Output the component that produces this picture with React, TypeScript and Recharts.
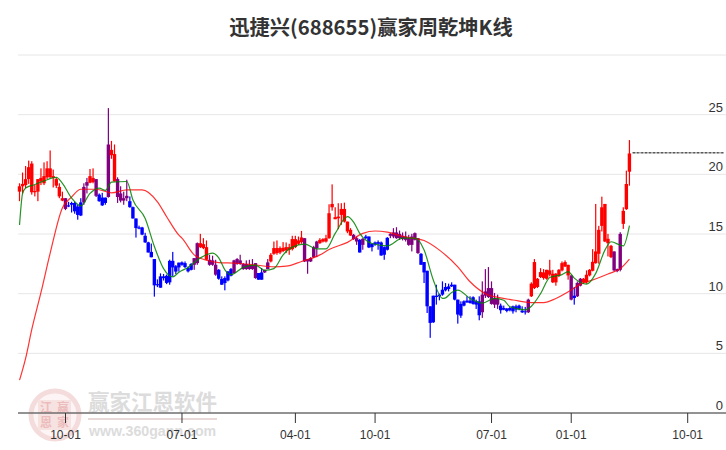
import { Bar, CartesianGrid, ComposedChart, Line, XAxis, YAxis } from "recharts";

const TITLE = "迅捷兴(688655)赢家周乾坤K线";

// one row per week, r = red, b = blue, p = purple
const kinds = (
  "rrrrrrrrrrrrrrrpbbbbbpprrpbbbprrpppp" +
  "bbbbbbbbbbbbbbbbb" +
  "bbbbpprrrpppbbbbbppppppppbbpprrrrrrrrrrrppppprrrrrrrrrr" +
  "rppbpbbbbbbbbpppppppppp" +
  "bbbbbbbbbbbbbbbbbbbbppppppbbbb" +
  "bbbbbprrrrrrrrrrrrrpbpprrrrrrrrrrppprrr"
).split("");

const highs = [
  19.25, 20.15, 20.7, 21.15, 21.1, 19.1, 19.6, 20.5, 21, 21.1, 22, 20.4, 19.7, 19.25, 18.55, 18, 17.7, 17.7, 17.7, 17.45,
  18, 19.25, 19.7, 20.45, 20.5, 19.6, 18.4, 18.45, 18.05, 25.55, 22.8, 22.5, 19.75, 19, 18.55, 19.55, 18.15, 17.3, 16.3, 15.7,
  15.6, 15.1, 14.35, 14.2, 12.9, 11.2, 11.7, 11.65, 11.6, 12.85, 13.5, 12.4, 12.6,
  12.7, 12.7, 12.28, 12.56, 12.98, 14.29, 15.01, 14.65, 14.46, 13.26, 13.18, 12.84, 12.06, 11.45, 11.45, 11.87, 12.15,
  12.84, 12.98, 13.26, 12.56, 12.79, 12.84, 12.9, 12.56, 11.73, 12.15, 12, 12.9, 13.4, 14.37, 14.46, 13.96, 14.32, 14.29, 14.18, 14.85,
  14.85, 14.79, 15.26, 14.65, 12.9, 13.06, 14.01, 14.43, 14.65, 14.65, 14.93, 17.49, 19.16, 17.24, 17.58, 17.58, 17.63, 16.04,
  15.49, 15.01, 14.79, 14.57, 14.65, 14.93, 14.79, 14.18, 14.37, 14.46, 14.37, 13.96, 14.74, 15.07, 15.49, 15.57, 15.29, 15.13, 15.21, 14.93,
  15.01, 15.13, 14.65, 13.4, 12.65, 11.92, 8.94, 9.83, 10.75, 10, 11.03, 10.89, 10.84, 10.95, 10.75, 9.5, 9.36, 9.44, 9.78, 9.78,
  9.78, 9.5, 9.78, 11.03, 12.06, 12.23, 11.03, 10.06, 9.92, 9.17, 9, 8.8, 8.89,
  9, 9.08, 9.08, 8.94, 8.89, 9.58, 10.95, 12.9, 11.31, 12.14, 12.06, 12, 12.84, 12, 11.73, 12.06, 12.7, 12.79, 12.42, 11.53,
  10.56, 11.03, 11.31, 11.31, 11.95, 12.06, 13.73, 17.52, 15.68, 18.13, 17.52, 15.01, 14.09, 13.54, 12.1, 15.15, 17.24, 20.31, 22.87,
];

const lows = [
  17.75, 18.4, 18.85, 19.2, 18.3, 18.15, 17.75, 19.1, 19.1, 19.6, 19.7, 18.9, 18.85, 18, 17.75, 17, 17.25, 16.8, 16.7, 16.2,
  16.5, 17.45, 18.4, 19.25, 19.25, 18.1, 17.7, 17.35, 17.45, 18.05, 21.3, 19.4, 17.6, 17.65, 17.45, 17.75, 17.2, 16.3, 14.7, 15.4,
  14.9, 14.25, 13.45, 13.05, 9.75, 10.55, 10.5, 11.1, 10.8, 10.75, 11.45, 11.65, 11.85,
  12.34, 12.15, 11.78, 11.95, 12, 12.42, 13.82, 13.73, 12.79, 12.34, 12.34, 11.5, 11.17, 10.75, 10.28, 11.03, 11.45,
  11.67, 12.42, 12.42, 12, 12, 12, 12, 11.25, 11.17, 11.17, 11.73, 12.06, 12.62, 13.26, 13.26, 13.31, 13.48, 13.4, 13.26, 13.62,
  13.82, 14.09, 14.18, 12.65, 11.67, 12.65, 12.98, 13.06, 14.18, 14.29, 14.29, 14.6, 16.96, 16.24, 15.4, 15.77, 15.96, 15.07,
  14.85, 14.51, 14.09, 13.45, 13.68, 14.57, 13.82, 13.54, 14.01, 13.68, 13.18, 12.84, 13.62, 14.65, 14.65, 14.6, 14.51, 14.46, 14.37, 14.01,
  13.54, 14.46, 13.34, 12.42, 10.89, 8.38, 6.3, 7.55, 9.08, 9.44, 9.83, 10.19, 10.19, 10.56, 9.44, 7.49, 7.97, 8.94, 9.22, 9.17,
  9.08, 8.72, 7.77, 7.97, 9.64, 9.64, 9.08, 8.8, 8.72, 8.33, 8.61, 8.44, 8.52,
  8.33, 8.44, 8.61, 8.38, 8.25, 8.38, 9.72, 10.39, 10.47, 11.31, 11.17, 11.17, 11.45, 10.89, 10.67, 11.39, 11.87, 12.23, 11.17, 9.44,
  9.08, 9.72, 10.61, 10.84, 10.84, 11.45, 11.87, 12.51, 12.51, 15.21, 14.32, 13.12, 12.98, 11.87, 11.8, 11.87, 15.43, 17.02, 19.05,
];

const bodyTops = [
  19, 19.2, 19.6, 20.6, 20.9, 18.6, 19.6, 19.7, 19.85, 20.5, 20.5, 19.85, 19.6, 18.95, 18, 18, 17.4, 17.6, 17.6, 17.3,
  17.65, 18.95, 19.35, 19.85, 19.7, 19.6, 18.3, 18.05, 18.05, 22.5, 22.05, 21.7, 19.6, 18.4, 18, 18.2, 17.75, 17.25, 16.3, 15.55,
  15.55, 14.85, 14.3, 13.5, 12.9, 10.8, 11.45, 11.45, 11.5, 12.75, 12.75, 12.3, 12.6,
  12.62, 12.56, 12.15, 12.48, 12.98, 14.23, 14.23, 14.15, 13.9, 12.84, 12.79, 12.42, 12, 11.23, 11.31, 11.87, 12.06,
  12.79, 12.9, 12.79, 12.48, 12.48, 12.42, 12.42, 12.56, 11.73, 11.78, 12, 12.62, 13.26, 13.82, 13.82, 13.82, 13.84, 13.9, 13.9, 14.57,
  14.57, 14.46, 14.71, 14.65, 12.9, 12.98, 13.9, 14.37, 14.51, 14.57, 14.65, 16.74, 17.52, 16.41, 16.46, 17.1, 17.1, 16.04,
  15.35, 14.93, 14.65, 14.51, 14.6, 14.79, 14.79, 14.18, 14.29, 14.32, 14.29, 13.9, 14.68, 15.01, 15.13, 15.13, 15.01, 14.85, 14.79, 14.65,
  14.79, 15.07, 14.65, 13.34, 12.65, 11.92, 8.94, 9.83, 9.83, 9.92, 10.33, 10.56, 10.61, 10.75, 10.75, 9.5, 9.14, 9.36, 9.42, 9.42,
  9.7, 9.36, 9.36, 9.92, 10.19, 10.47, 10.47, 9.64, 9.58, 9, 8.8, 8.75, 8.8,
  8.94, 8.94, 9, 8.58, 8.52, 9.5, 10.84, 12.65, 11.25, 11.81, 11.78, 12, 11.95, 11.67, 11.67, 12, 12.56, 12.65, 12.42, 11.53,
  9.83, 10.89, 11.25, 11.25, 11.59, 12, 12.67, 13.54, 15.35, 17.24, 17.52, 14.6, 14.01, 13.54, 12.06, 15.01, 16.94, 19.19, 21.75,
];

const bodyBottoms = [
  18.55, 19, 19.1, 19.6, 18.5, 18.5, 18.55, 19.4, 19.25, 19.75, 19.75, 19.7, 19.05, 18.15, 17.8, 17.1, 17.3, 17.45, 16.9, 16.6,
  16.55, 17.65, 19.05, 19.3, 19.35, 18.2, 17.75, 17.4, 17.6, 18.1, 21.6, 19.4, 18.1, 17.8, 17.8, 18, 17.25, 16.3, 15.5, 15.45,
  14.95, 14.3, 13.45, 13.05, 10.7, 10.7, 10.5, 11.3, 10.9, 10.95, 12.2, 11.85, 12.2,
  12.42, 12.23, 11.87, 12, 12.42, 12.56, 13.9, 13.82, 12.84, 12.42, 12.42, 11.59, 11.25, 10.75, 10.89, 11.11, 11.5,
  11.73, 12.5, 12.5, 12.06, 12.06, 12.06, 12.06, 11.31, 11.17, 11.17, 11.78, 12.06, 12.7, 13.34, 13.4, 13.45, 13.57, 13.62, 13.68, 13.73,
  13.9, 14.18, 14.32, 12.7, 12.7, 12.7, 13.06, 13.82, 14.23, 14.37, 14.37, 14.65, 17.24, 16.24, 16.32, 16.6, 16.04, 15.21,
  14.87, 14.57, 14.37, 13.45, 14.09, 14.65, 13.87, 13.9, 14.12, 14.18, 13.2, 13.26, 13.68, 14.85, 14.79, 14.65, 14.65, 14.57, 14.51, 14.09,
  14.09, 14.51, 13.4, 12.42, 11.78, 8.94, 7.55, 7.6, 9.72, 9.78, 9.92, 10.28, 10.39, 10.61, 9.5, 8.25, 8.16, 9, 9.28, 9.22,
  9.14, 9.08, 8.19, 8.44, 9.83, 9.72, 9.14, 9.08, 9.08, 8.61, 8.66, 8.55, 8.61,
  8.52, 8.66, 8.72, 8.44, 8.44, 8.44, 9.78, 10.47, 10.56, 11.39, 11.31, 11.25, 11.59, 10.95, 10.95, 11.53, 11.95, 12.28, 11.53, 9.5,
  9.64, 9.78, 10.67, 10.95, 10.95, 11.53, 11.92, 12.56, 13.34, 15.68, 14.37, 14.23, 13.06, 11.95, 11.89, 12, 15.85, 17.08, 20.22,
];

// smoothed lines, read at [week, price]
const greenKnots = [
  [0, 15.75], [1, 18.4], [2, 18.85], [5, 19.15], [8, 19.45], [12, 19.75], [14, 19.25], [17, 18], [20, 17.35], [23, 18.4],
  [26, 18.85], [28, 18.65], [30, 19.35], [35, 19.4], [37, 17.85], [41, 16.3], [44, 13.95], [47, 12.1], [50, 11.4], [52, 11.8],
  [55, 12.2], [59, 13], [63, 13.4], [65, 13], [67, 12], [69, 11.6], [73, 12.2], [77, 12.4], [80, 11.95], [83, 12.1],
  [86, 13.25], [89, 13.9], [93, 14.15], [97, 13.75], [100, 13.75], [103, 15.05], [107, 16.45], [109, 16], [111, 15.05], [115, 14.2],
  [120, 14], [125, 14.65], [129, 14.65], [132, 13.65], [135, 11.15], [138, 9.6], [139, 9.65], [141, 10.1], [143, 10.3], [147, 9.6],
  [151, 9.2], [155, 9.6], [158, 9.45], [160, 8.9], [165, 8.65], [167, 8.95], [170, 10], [173, 11.35], [177, 11.6], [179, 11.85],
  [181, 11.3], [185, 10.8], [188, 11.7], [191, 13.65], [193, 14.35], [197, 14], [199, 15.7],
];

const redKnots = [
  [0, 2.75], [2, 4.6], [4, 7], [7, 10.1], [10, 13.4], [14, 17.2], [17, 18.1], [20, 18.75], [25, 18.75], [30, 18.45],
  [35, 18.7], [40, 18.7], [45, 17.7], [48, 16.45], [52, 14.9], [53, 14.65], [57, 13.25], [61, 12.8], [65, 12.6], [71, 12.55],
  [77, 12.4], [83, 12.25], [87, 12.3], [92, 12.7], [98, 13.25], [101, 13.7], [107, 14.3], [112, 15.05], [116, 15.25], [120, 15.15],
  [125, 14.8], [132, 14.45], [137, 13.65], [143, 12.25], [147, 11], [152, 10], [157, 9.65], [161, 9.47], [167, 9.25], [171, 9.25],
  [175, 9.6], [180, 10.3], [183, 10.8], [187, 11.15], [192, 11.65], [196, 12.1], [199, 12.9],
];

const lastPrice = 21.8;
const lastPriceFrom = 200;
const weekCount = 231;

const priceTicks = [0, 5, 10, 15, 20, 25, 30];
const weekTicks = [15, 53, 90, 116, 154, 180, 218];
const weekLabels = ["10-01", "07-01", "04-01", "10-01", "07-01", "01-01", "10-01"];

const greenByWeek = new Map(greenKnots.map(([w, v]) => [w, v]));
const redByWeek = new Map(redKnots.map(([w, v]) => [w, v]));

const rows = Array.from({ length: weekCount }, (_, week) => ({
  week,
  kind: kinds[week],
  range: week < highs.length ? [lows[week], highs[week]] : null,
  high: highs[week],
  low: lows[week],
  top: bodyTops[week],
  bottom: bodyBottoms[week],
  green: greenByWeek.get(week) ?? null,
  red: redByWeek.get(week) ?? null,
  last: week >= lastPriceFrom ? lastPrice : null,
}));

const KIND_COLORS: Record<string, string> = { r: "#ff0000", b: "#0000ff", p: "#800080" };

function Candle(props: any) {
  const { x, y, width, height, payload } = props;
  if (!payload || payload.range == null) return null;
  const color = KIND_COLORS[payload.kind];
  const perUnit = height / (payload.high - payload.low);
  const cx = x + width / 2;
  const bodyY = y + (payload.high - payload.top) * perUnit;
  const bodyH = Math.max((payload.top - payload.bottom) * perUnit, 1);
  return (
    <g>
      <rect x={cx - 0.6} y={y} width={1.2} height={height} fill={color} />
      <rect x={cx - 1.7} y={bodyY} width={3.4} height={bodyH} fill={color} />
    </g>
  );
}

function PriceTick(props: any) {
  const { y, payload } = props;
  if (payload.value === 30) return <g />;
  return (
    <text x={723} y={y - 3} textAnchor="end" fontSize={13} fill="#333" fontFamily="Liberation Sans, Arial, sans-serif">
      {payload.value}
    </text>
  );
}

function Watermark() {
  return (
    <svg width={726} height={450} style={{ position: "absolute", left: 0, top: 0 }}>
      <circle cx={55} cy={415} r={24} fill="#fdf5f5" stroke="#f5dcdc" strokeWidth={5} />
      <rect x={38} y={400} width={33} height={30} fill="#f7e2e2" />
      <g fontSize={12} fontWeight="bold" fill="#ecbcbc" fontFamily="Noto Sans CJK SC" textAnchor="middle">
        <text x={46} y={412}>江</text>
        <text x={63} y={412}>赢</text>
        <text x={46} y={427}>恩</text>
        <text x={63} y={427}>家</text>
      </g>
      <text x={88} y={410} fontSize={21.5} fontWeight="bold" fill="#dcdcdc" fontFamily="Noto Sans CJK SC">
        赢家江恩软件
      </text>
      <rect x={88} y={418} width={129} height={2} fill="#e8d8d8" />
      <text x={89} y={436} fontSize={14.2} fontWeight="bold" fill="#dcdcdc" fontFamily="Liberation Sans, Arial, sans-serif">
        www.360gann.com
      </text>
    </svg>
  );
}

export default function App() {
  return (
    <div style={{ position: "absolute", left: 0, top: 0, width: 726, height: 450, background: "#fff" }}>
      <Watermark />
      <div
        style={{
          position: "absolute",
          left: 0,
          top: 12,
          width: 742,
          textAlign: "center",
          fontSize: 20.3,
          fontWeight: "bold",
          color: "#333",
          fontFamily: "Noto Sans CJK SC",
          lineHeight: "28px",
        }}
      >
        {TITLE}
      </div>
      <div style={{ position: "absolute", left: 0, top: 0 }}>
        <ComposedChart
          width={726}
          height={450}
          data={rows}
          margin={{ top: 55, right: 0, bottom: 0, left: 18 }}
          barCategoryGap={0}
          style={{ background: "transparent" }}
        >
          <CartesianGrid vertical={false} stroke="#e6e6e6" />
          <XAxis
            dataKey="week"
            type="category"
            ticks={weekTicks}
            interval={0}
            tickSize={10}
            tickMargin={7}
            height={37}
            stroke="#333"
            tick={{ fill: "#333", fontSize: 12, fontFamily: "Liberation Sans, Arial, sans-serif" }}
            tickFormatter={(w) => weekLabels[weekTicks.indexOf(w)]}
          />
          <YAxis
            orientation="right"
            mirror
            width={40}
            domain={[0, 30]}
            ticks={priceTicks}
            interval={0}
            axisLine={false}
            tickLine={false}
            tick={<PriceTick />}
          />
          <Bar dataKey="range" shape={<Candle />} isAnimationActive={false} />
          <Line dataKey="red" type="monotone" stroke="#ff0000" strokeOpacity={0.8} strokeWidth={1.2} dot={false} connectNulls isAnimationActive={false} />
          <Line dataKey="green" type="monotone" stroke="#008000" strokeOpacity={0.85} strokeWidth={1.2} dot={false} connectNulls isAnimationActive={false} />
          <Line dataKey="last" stroke="#000" strokeWidth={1} strokeDasharray="3 1" dot={false} isAnimationActive={false} />
        </ComposedChart>
      </div>
    </div>
  );
}
